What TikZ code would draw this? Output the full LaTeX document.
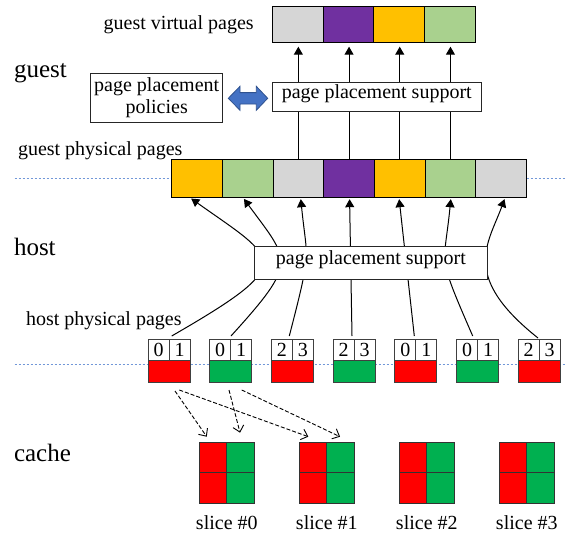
\documentclass[tikz,border=0pt]{standalone}
\usepackage{fontspec}
\setmainfont{Liberation Serif}
\usetikzlibrary{arrows.meta}
\definecolor{pgold}{HTML}{FFC000}
\definecolor{plgreen}{HTML}{A9D18E}
\definecolor{pgray}{HTML}{D6D6D6}
\definecolor{ppurple}{HTML}{7030A0}
\definecolor{cred}{HTML}{FF0000}
\definecolor{cgreen}{HTML}{00B050}
\definecolor{sepblue}{HTML}{7197D8}
\definecolor{linkblue}{HTML}{4472C4}
\definecolor{linkedge}{HTML}{2F528F}
\pgfdeclarelayer{back}
\pgfsetlayers{back,main}
\begin{document}
\begin{tikzpicture}[x=1pt,y=-1pt,
  every node/.style={inner sep=0pt,outer sep=0pt},
  small/.style={font=\fontsize{20}{22.7}\selectfont},
  large/.style={font=\fontsize{25}{28}\selectfont},
  pagecell/.style={draw=black,line width=1pt,minimum width=50.7pt},
  hostcell/.style={draw=black!75,line width=1pt},
  slicecell/.style={draw=black!80,line width=1pt,minimum width=27.5pt,minimum height=30.4pt},
  framebox/.style={draw=black!85,line width=0.9pt,fill=white,small},
  lowtext/.style={text height=11.2pt,text depth=6.8pt},
  sep/.style={sepblue,line width=0.8pt,dash pattern=on 2.5pt off 1.5pt},
  uparrow/.style={line width=1pt,-{Triangle[length=8pt,width=9pt]}},
  cachearrow/.style={line width=0.9pt,dash pattern=on 4pt off 2pt,-{Straight Barb[length=6pt,width=11pt]}},
]
\useasboundingbox (0,0) rectangle (570,535);

% side labels
\node[large,anchor=base west] (lguest) at (14,77.5) {guest};
\node[large,anchor=base west] (lhost) at (14,255) {host};
\node[large,anchor=base west] (lcache) at (14,461.7) {cache};

% row labels
\node[small,anchor=base] (lgv) at (178.7,29.5) {guest virtual pages};
\node[small,anchor=base west] (lgp) at (18,155.7) {guest physical pages};
\node[small,anchor=base west] (lhp) at (26,325) {host physical pages};

% guest virtual pages
\foreach \c [count=\i from 0] in {pgray,ppurple,pgold,plgreen}
  \node[pagecell,minimum height=36pt,fill=\c] (gv\i) at ({298+50.6*\i},24.7) {};

% guest physical pages
\foreach \c [count=\i from 0] in {pgold,plgreen,pgray,ppurple,pgold,plgreen,pgray}
  \node[pagecell,minimum height=38.4pt,fill=\c] (gp\i) at ({196.95+50.7*\i},178.5) {};

% host physical pages: two slice bits on top, colour below
\foreach \a/\b/\c [count=\i from 0] in {0/1/cred,0/1/cgreen,2/3/cred,2/3/cgreen,0/1/cred,0/1/cgreen,2/3/cred}{
  \node[hostcell,small,minimum width=21pt,minimum height=21.7pt] (hl\i) at ({158.5+61.7*\i},349.85) {\a};
  \node[hostcell,small,minimum width=21pt,minimum height=21.7pt] (hr\i) at ({179.5+61.7*\i},349.85) {\b};
  \node[hostcell,minimum width=42pt,minimum height=21.5pt,fill=\c] (hp\i) at ({169+61.7*\i},371.45) {};
}

% cache slices
\foreach \k in {0,1,2,3}{
  \node[slicecell,fill=cred] (sa\k) at ({213.05+100*\k},457.7) {};
  \node[slicecell,fill=cgreen] (sb\k) at ({240.55+100*\k},457.7) {};
  \node[slicecell,fill=cred] (sc\k) at ({213.05+100*\k},488.1) {};
  \node[slicecell,fill=cgreen] (sd\k) at ({240.55+100*\k},488.1) {};
  \node[small,anchor=base] (sl\k) at ({226.8+100*\k},529) {slice \#\k};
}

% placement boxes
\node[framebox,lowtext,minimum width=209.5pt,minimum height=29pt] (gsup) at (376.75,96.5) {page placement support};
\node[framebox,lowtext,minimum width=233.7pt,minimum height=33.3pt] (hsup) at (370.85,262.65) {page placement support};
\node[framebox,minimum width=132pt,minimum height=48.7pt,align=center] (pol) at (156.7,97.65) {page placement\\policies};

% two-way link between policies and support
\filldraw[fill=linkblue,draw=linkedge,line width=0.8pt]
  (228.3,98.3) -- (240,86.3) -- (240,92.6) -- (256.3,92.6) -- (256.3,86.3)
  -- (267.7,98.3) -- (256.3,110.3) -- (256.3,104) -- (240,104) -- (240,110.3) -- cycle;

\begin{pgfonlayer}{back}
  % guest / host / cache separators
  \draw[sep] (14.5,178.3) -- (566,178.3);
  \draw[sep] (14.5,364.5) -- (566,364.5);

  % guest physical -> guest virtual
  \foreach \i in {0,1,2,3}{
    \pgfmathtruncatemacro\j{\i+2}
    \draw[uparrow,shorten >=4pt] (gp\j.north) -- (gp\j.north |- gv\i.south);
  }

  % host physical -> guest physical
  \draw[uparrow,shorten >=1.5pt] ([xshift=2.7pt,yshift=3pt]hl0.north east)
    .. controls (299,262.5) and (278.6,260.6) .. ([xshift=-7pt]gp0.south);
  \draw[uparrow,shorten >=1.5pt] ([xshift=0.3pt,yshift=3pt]hl1.north east)
    .. controls (298.7,261.3) and (290,261.7) .. ([xshift=-4.6pt]gp1.south);
  \draw[uparrow,shorten >=1.5pt] ([xshift=-3.1pt,yshift=3pt]hl2.north east)
    .. controls (312.2,247.1) and (307.1,262.6) .. ([xshift=2.3pt]gp2.south);
  \draw[uparrow,shorten >=1.5pt] ([xshift=-2.1pt,yshift=3pt]hl3.north east)
    -- ([xshift=0.5pt]gp3.south);
  \draw[uparrow,shorten >=1.5pt] ([xshift=-1.5pt,yshift=3pt]hl4.north east)
    -- ([xshift=-0.75pt]gp4.south);
  \draw[uparrow,shorten >=1.5pt] ([xshift=-4.8pt,yshift=3pt]hl5.north east)
    .. controls (436.1,251.8) and (444,268.5) .. ([xshift=0.5pt]gp5.south);
  \draw[uparrow,shorten >=1.5pt] ([xshift=-1.2pt,yshift=1pt]hl6.north east)
    .. controls (460,276) and (488.3,243.7) .. ([xshift=3.85pt]gp6.south);

  % host physical -> cache slices
  \draw[cachearrow] ([xshift=6pt,yshift=-8.8pt]hp0.south) -- ([xshift=-6.3pt,yshift=5.8pt]sa0.north);
  \draw[cachearrow] ([xshift=10.3pt,yshift=-7.8pt]hp0.south) -- ([xshift=-4.7pt,yshift=5.8pt]sa1.north);
  \draw[cachearrow] ([xshift=-1.7pt,yshift=-7.8pt]hp1.south) -- ([xshift=-0.5pt,yshift=9.8pt]sb0.north);
  \draw[cachearrow] ([xshift=11pt,yshift=-7.8pt]hp1.south) -- ([xshift=-0.5pt,yshift=5.8pt]sb1.north);
\end{pgfonlayer}
\end{tikzpicture}
\end{document}
